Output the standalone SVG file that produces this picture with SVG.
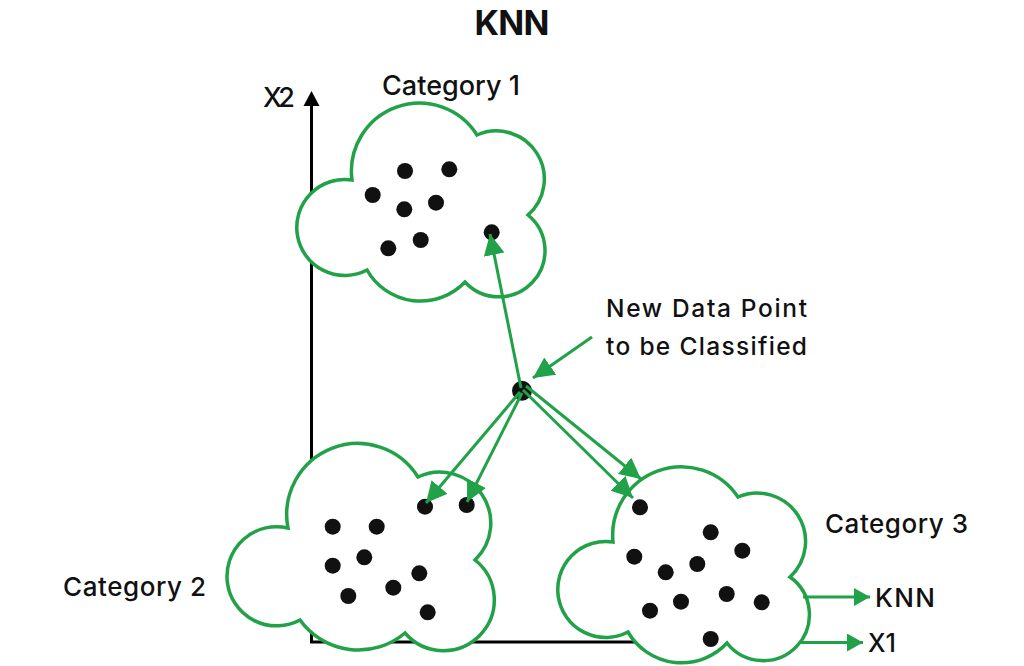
<svg xmlns="http://www.w3.org/2000/svg" width="1024" height="666" viewBox="0 0 1024 666">
<style>
.cloud{fill:#ffffff;stroke:#21a148;stroke-width:3.5;stroke-linejoin:miter}
.dot{fill:#111111}
.conn{stroke:#21a148;stroke-width:3;fill:none}
.axis{stroke:#000000;stroke-width:3;fill:none}
.lbl{font-family:Inter,"Liberation Sans",Arial,sans-serif;font-weight:500;fill:#111111}
</style>
<defs>
<marker id="ah" markerUnits="userSpaceOnUse" markerWidth="24" markerHeight="24" refX="21" refY="10.5" orient="auto">
<path d="M0,0 L21,10.5 L0,21 z" fill="#21a148"/>
</marker>
<marker id="ahs" markerUnits="userSpaceOnUse" markerWidth="20" markerHeight="20" refX="16" refY="9" orient="auto">
<path d="M0,0 L16,9 L0,18 z" fill="#21a148"/>
</marker>
</defs>
<rect width="1024" height="666" fill="#ffffff"/>
<g id="axes">
<line class="axis" x1="311.5" y1="104" x2="311.5" y2="642"/>
<line class="axis" x1="310" y1="642" x2="700" y2="642"/>
<polygon points="311.5,91 303.5,106 319.5,106" fill="#000000"/>
</g>
<g id="title"><text class="lbl" x="512" y="35" font-size="34" font-weight="700" style="font-weight:700" text-anchor="middle" textLength="75">KNN</text></g>
<g id="x2-label"><text class="lbl" x="263" y="107" font-size="27" textLength="32">X2</text></g>
<g id="category1">
<path class="cloud" d="M352,180 A68 68 0 0 1 477,135 A48 48 0 0 1 528,215 A46.1 46.1 0 1 1 465,282 A61.5 61.5 0 0 1 367,270 A48 48 0 1 1 352,180 Z"/>
<circle class="dot" cx="405" cy="171" r="8"/>
<circle class="dot" cx="449.3" cy="169.3" r="8"/>
<circle class="dot" cx="372.7" cy="195" r="8"/>
<circle class="dot" cx="404.3" cy="209.3" r="8"/>
<circle class="dot" cx="436" cy="202.7" r="8"/>
<circle class="dot" cx="420.7" cy="240" r="8"/>
<circle class="dot" cx="388.3" cy="248.3" r="8"/>
<circle class="dot" cx="491.7" cy="232.3" r="8"/>
<text class="lbl" x="382" y="95" font-size="27" textLength="138">Category 1</text>
</g>
<g id="category2">
<path class="cloud" d="M288,528 A71 71 0 0 1 418,477 A51 51 0 0 1 475,560 A50.8 50.8 0 1 1 405,633 A72 72 0 0 1 300,620 A49.6 49.6 0 1 1 288,528 Z"/>
<circle class="dot" cx="425" cy="506.7" r="8"/>
<circle class="dot" cx="466.7" cy="505" r="8"/>
<circle class="dot" cx="332.7" cy="526.7" r="8"/>
<circle class="dot" cx="376.7" cy="526.7" r="8"/>
<circle class="dot" cx="364.3" cy="557.3" r="8"/>
<circle class="dot" cx="332.7" cy="565.7" r="8"/>
<circle class="dot" cx="419.3" cy="573.3" r="8"/>
<circle class="dot" cx="393.3" cy="587.7" r="8"/>
<circle class="dot" cx="348.3" cy="596" r="8"/>
<circle class="dot" cx="427.7" cy="612.3" r="8"/>
<text class="lbl" x="63" y="596" font-size="26" textLength="143">Category 2</text>
</g>
<g id="category3">
<path class="cloud" d="M613,542 A68.5 68.5 0 0 1 738,497 A48.4 48.4 0 0 1 790,577 A46.1 46.1 0 1 1 727,643 A62 62 0 0 1 628,632 A48 48 0 1 1 613,542 Z"/>
<circle class="dot" cx="640" cy="507.3" r="8"/>
<circle class="dot" cx="710.7" cy="532.3" r="8"/>
<circle class="dot" cx="742.3" cy="550.7" r="8"/>
<circle class="dot" cx="634.3" cy="556.7" r="8"/>
<circle class="dot" cx="697.3" cy="564" r="8"/>
<circle class="dot" cx="665.7" cy="572.3" r="8"/>
<circle class="dot" cx="726.7" cy="594" r="8"/>
<circle class="dot" cx="761.7" cy="602.3" r="8"/>
<circle class="dot" cx="681" cy="601.7" r="8"/>
<circle class="dot" cx="650" cy="610.7" r="8"/>
<circle class="dot" cx="710.7" cy="639" r="8"/>
<text class="lbl" x="825" y="533" font-size="26" textLength="143">Category 3</text>
</g>
<g id="new-point">
<circle class="dot" cx="522" cy="390.7" r="10"/>
<text class="lbl" x="606" y="317" font-size="24.5" textLength="201">New Data Point</text>
<text class="lbl" x="606" y="355" font-size="24.5" textLength="201">to be Classified</text>
</g>
<g id="connectors">
<line class="conn" x1="521" y1="388" x2="490" y2="234" marker-end="url(#ah)"/>
<line class="conn" x1="520" y1="392" x2="426" y2="503" marker-end="url(#ah)"/>
<line class="conn" x1="522" y1="393" x2="467" y2="502" marker-end="url(#ah)"/>
<line class="conn" x1="526" y1="386" x2="641" y2="479" marker-end="url(#ah)"/>
<line class="conn" x1="523" y1="390" x2="633" y2="498" marker-end="url(#ah)"/>
<line class="conn" x1="592" y1="337" x2="533" y2="378" marker-end="url(#ah)"/>
<line class="conn" x1="803" y1="597" x2="870" y2="597" marker-end="url(#ahs)"/>
<line class="conn" x1="799" y1="642.5" x2="863" y2="642.5" marker-end="url(#ahs)"/>
</g>
<g id="output-labels">
<text class="lbl" x="875" y="607" font-size="26" textLength="60">KNN</text>
<text class="lbl" x="868" y="652" font-size="25" textLength="28">X1</text>
</g>
</svg>
